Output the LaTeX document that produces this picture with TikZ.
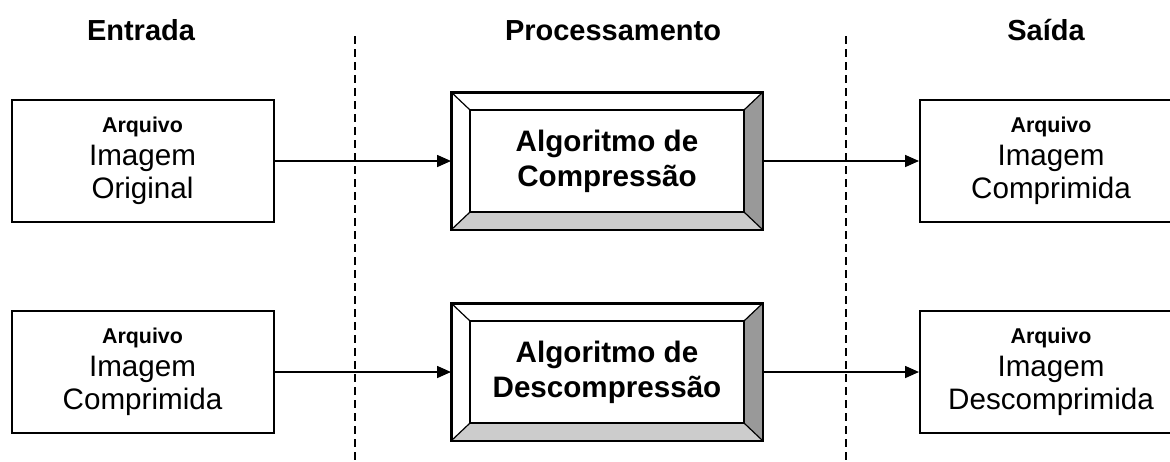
\documentclass[tikz,border=0pt]{standalone}
\usepackage{fontspec}
\setmainfont{Liberation Sans}
\usetikzlibrary{arrows.meta}

\begin{document}
\begin{tikzpicture}[
        % Define styles
        x=0.5pt, y=-0.5pt,
        header/.style={font=\bfseries\fontsize{14.5}{17}\selectfont, anchor=base, inner sep=0pt},
        filebox/.style={draw, line width=1pt, minimum width=131pt, minimum height=61pt,
            inner sep=0pt, align=center, font=\fontsize{14.8}{16.5}\selectfont},
        algframe/.style={draw, line width=1pt, minimum width=155pt, minimum height=68pt, inner sep=0pt},
        alginner/.style={minimum width=137pt, minimum height=51pt, inner sep=0pt,
            align=center, font=\bfseries\fontsize{14.8}{17.5}\selectfont},
        flow/.style={line width=0.8pt, -{Triangle[length=7pt, width=6pt]}},
        divider/.style={line width=0.75pt, dash pattern=on 4pt off 2.5pt},
        bevel dark/.style={fill=black!40},
        bevel light/.style={fill=black!20}
    ]

        \useasboundingbox (0,0) rectangle (1170,461);
        \clip (0,0) rectangle (1170,461);

        % --- Coordinates ---

        % Column separators
        \coordinate (sep_left_top) at (355, 36);
        \coordinate (sep_left_bot) at (355, 461);
        \coordinate (sep_right_top) at (846, 36);
        \coordinate (sep_right_bot) at (846, 461);

        % Box centres
        \coordinate (in_top) at (142.5, 161);
        \coordinate (in_bot) at (142.5, 372);
        \coordinate (alg_top) at (607, 161);
        \coordinate (alg_bot) at (607, 372);
        \coordinate (out_top) at (1051, 161);
        \coordinate (out_bot) at (1051, 372);

        % --- Headers ---
        \node[header] (h_in) at (141, 40) {Entrada};
        \node[header] (h_proc) at (613, 40) {Processamento};
        \node[header] (h_out) at (1046, 40) {Saída};

        % --- Separators ---
        \draw[divider] (sep_left_top) -- (sep_left_bot);
        \draw[divider] (sep_right_top) -- (sep_right_bot);

        % --- Input and output files ---
        \node[filebox] (file_orig) at (in_top) {{\bfseries\fontsize{10.7}{13}\selectfont Arquivo}\\Imagem\\Original};
        \node[filebox] (file_comp_in) at (in_bot) {{\bfseries\fontsize{10.7}{13}\selectfont Arquivo}\\Imagem\\Comprimida};
        \node[filebox] (file_comp_out) at (out_top) {{\bfseries\fontsize{10.7}{13}\selectfont Arquivo}\\Imagem\\Comprimida};
        \node[filebox] (file_decomp) at (out_bot) {{\bfseries\fontsize{10.7}{13}\selectfont Arquivo}\\Imagem\\Descomprimida};

        % --- Algorithm boxes ---
        \node[algframe] (comp_frame) at (alg_top) {};
        \node[alginner] (comp) at (alg_top) {Algoritmo de\\Compressão};
        \node[algframe] (decomp_frame) at (alg_bot) {};
        \node[alginner] (decomp) at (alg_bot) {Algoritmo de\\Descompressão};

        % Bevel faces
        \foreach \alg in {comp, decomp} {
            \fill[bevel dark] (\alg.north east) -- (\alg_frame.north east)
                -- (\alg_frame.south east) -- (\alg.south east) -- cycle;
            \fill[bevel light] (\alg.south west) -- (\alg_frame.south west)
                -- (\alg_frame.south east) -- (\alg.south east) -- cycle;
            \draw[line width=1pt] (\alg_frame.north west) rectangle (\alg_frame.south east);
            \draw[line width=1pt] (\alg.north west) rectangle (\alg.south east);
            \draw[line width=0.6pt] (\alg.north west) -- (\alg_frame.north west);
            \draw[line width=0.6pt] (\alg.north east) -- (\alg_frame.north east);
            \draw[line width=0.6pt] (\alg.south west) -- (\alg_frame.south west);
            \draw[line width=0.6pt] (\alg.south east) -- (\alg_frame.south east);
        }

        % --- Draw Edges ---
        \draw[flow] (file_orig) -- (comp_frame);
        \draw[flow] (comp_frame) -- (file_comp_out);
        \draw[flow] (file_comp_in) -- (decomp_frame);
        \draw[flow] (decomp_frame) -- (file_decomp);

    \end{tikzpicture}
\end{document}
